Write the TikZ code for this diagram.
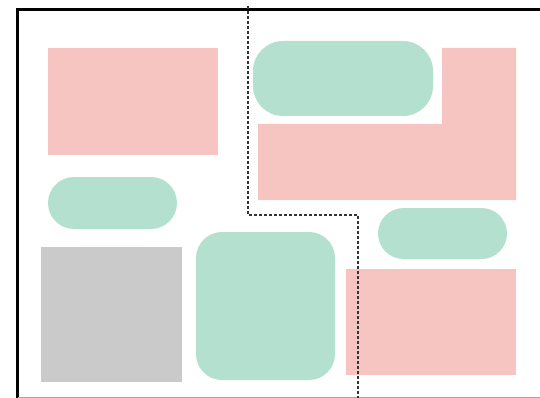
\documentclass[tikz,border=0pt]{standalone}
\definecolor{pinkc}{HTML}{F6C4C1}
\definecolor{greenc}{HTML}{B3E0CF}
\definecolor{grayc}{HTML}{CACACA}
\definecolor{dashc}{HTML}{333333}
\begin{document}
\begin{tikzpicture}[x=1pt,y=-1pt,
  box/.style={anchor=north west, inner sep=0pt, outer sep=0pt, draw=none},
  pinkbox/.style={box, fill=pinkc},
  greenbox/.style={box, fill=greenc},
  graybox/.style={box, fill=grayc},
  divider/.style={draw=dashc, line width=1.1pt, dash pattern=on 3pt off 2pt}]
\useasboundingbox (0,0) rectangle (540,398);
% frame
\draw[line width=3pt, black] (17,398) -- (17,9.5) -- (540,9.5);
\draw[line width=1pt, black!35] (18,397.5) -- (540,397.5);
% shapes
\node[pinkbox, minimum width=170pt, minimum height=107pt] (p1) at (48,48) {};
\node[greenbox, rounded corners=30pt, minimum width=180pt, minimum height=75pt] (g1) at (253,41) {};
\fill[pinkc] (442,48) coordinate (l1) -- (516,48) -- (516,200) -- (258,200) -- (258,124) -- (442,124) -- cycle;
\node[greenbox, rounded corners=26pt, minimum width=129pt, minimum height=52pt] (g2) at (48,177) {};
\node[greenbox, rounded corners=25.5pt, minimum width=129pt, minimum height=51pt] (g3) at (378,208) {};
\node[graybox, minimum width=141pt, minimum height=135pt] (gr) at (41,247) {};
\node[greenbox, rounded corners=26pt, minimum width=139pt, minimum height=148pt] (g4) at (196,232) {};
\node[pinkbox, minimum width=170pt, minimum height=106pt] (p3) at (346,269) {};
% dashed divider
\coordinate (d0) at (248,6);
\coordinate (d1) at (248,215);
\coordinate (d2) at (358,215);
\coordinate (d3) at (358,398);
\draw[divider] (d0) -- (d1) -- (d2) -- (d3);
\end{tikzpicture}
\end{document}
